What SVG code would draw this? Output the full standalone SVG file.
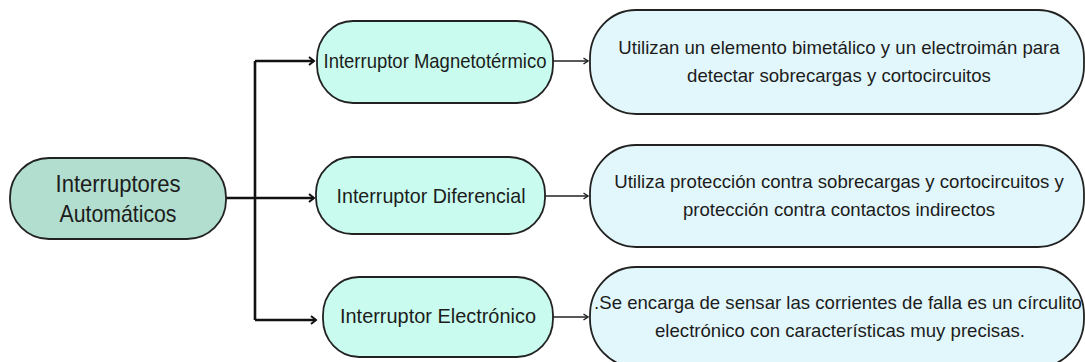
<svg xmlns="http://www.w3.org/2000/svg" width="1085" height="362" viewBox="0 0 1085 362">
<style>
.box{stroke:#222;stroke-width:1.8}
.root{fill:#b1dece}
.mid{fill:#c9fcef}
.desc{fill:#e2f7fb}
text{font-family:"Liberation Sans",Arial,sans-serif;fill:#1c1c1c;text-anchor:middle}
.t-root{font-size:24px}
.t-mid{font-size:21px}
.t-desc{font-size:18.6px}
.thick{stroke:#111;stroke-width:2.6;fill:none}
.thin{stroke:#222;stroke-width:1.6;fill:none}
</style>
<defs>
<marker id="ah" markerWidth="8" markerHeight="10" refX="6" refY="5" orient="auto" markerUnits="userSpaceOnUse">
<path d="M1,1 L6,5 L1,9" fill="none" stroke="#111" stroke-width="2"/>
</marker>
<marker id="ahs" markerWidth="8" markerHeight="8" refX="5" refY="4" orient="auto" markerUnits="userSpaceOnUse">
<path d="M0.5,1 L5,4 L0.5,7" fill="none" stroke="#222" stroke-width="1.5"/>
</marker>
</defs>
<rect width="1085" height="362" fill="#ffffff"/>
<g id="connectors">
<path class="thick" d="M226,198 L314,198" marker-end="url(#ah)"/>
<path class="thick" d="M255,61 L255,320"/>
<path class="thick" d="M255,61 L314,61" marker-end="url(#ah)"/>
<path class="thick" d="M255,320 L316,320" marker-end="url(#ah)"/>
<path class="thin" d="M553,61 L588,61" marker-end="url(#ahs)"/>
<path class="thin" d="M545,196 L588,196" marker-end="url(#ahs)"/>
<path class="thin" d="M553,317 L588,317" marker-end="url(#ahs)"/>
</g>
<g id="root">
<rect class="box root" x="10" y="158" width="216" height="81" rx="39" ry="39"/>
<text class="t-root" x="118" y="192" textLength="125" lengthAdjust="spacingAndGlyphs">Interruptores</text>
<text class="t-root" x="118" y="222" textLength="117" lengthAdjust="spacingAndGlyphs">Automáticos</text>
</g>
<g id="n-magnetotermico">
<rect class="box mid" x="317" y="21" width="236" height="82" rx="36" ry="38"/>
<text class="t-mid" x="435" y="68" textLength="223" lengthAdjust="spacingAndGlyphs">Interruptor Magnetotérmico</text>
</g>
<g id="n-diferencial">
<rect class="box mid" x="316" y="157" width="229" height="77" rx="36" ry="36"/>
<text class="t-mid" x="431" y="203" textLength="189" lengthAdjust="spacingAndGlyphs">Interruptor Diferencial</text>
</g>
<g id="n-electronico">
<rect class="box mid" x="323" y="277" width="230" height="80" rx="36" ry="38"/>
<text class="t-mid" x="438" y="323" textLength="196" lengthAdjust="spacingAndGlyphs">Interruptor Electrónico</text>
</g>
<g id="d-magnetotermico">
<rect class="box desc" x="590" y="10" width="494" height="104" rx="46" ry="48"/>
<text class="t-desc" x="839" y="54">Utilizan un elemento bimetálico y un electroimán para</text>
<text class="t-desc" x="839" y="82">detectar sobrecargas y cortocircuitos</text>
</g>
<g id="d-diferencial">
<rect class="box desc" x="590" y="145" width="494" height="102" rx="46" ry="48"/>
<text class="t-desc" x="839" y="188">Utiliza protección contra sobrecargas y cortocircuitos y</text>
<text class="t-desc" x="839" y="216">protección contra contactos indirectos</text>
</g>
<g id="d-electronico">
<rect class="box desc" x="590" y="267" width="494" height="100" rx="46" ry="48"/>
<text class="t-desc" x="838" y="309">.Se encarga de sensar las corrientes de falla es un círculito</text>
<text class="t-desc" x="840" y="337">electrónico con características muy precisas.</text>
</g>
</svg>
